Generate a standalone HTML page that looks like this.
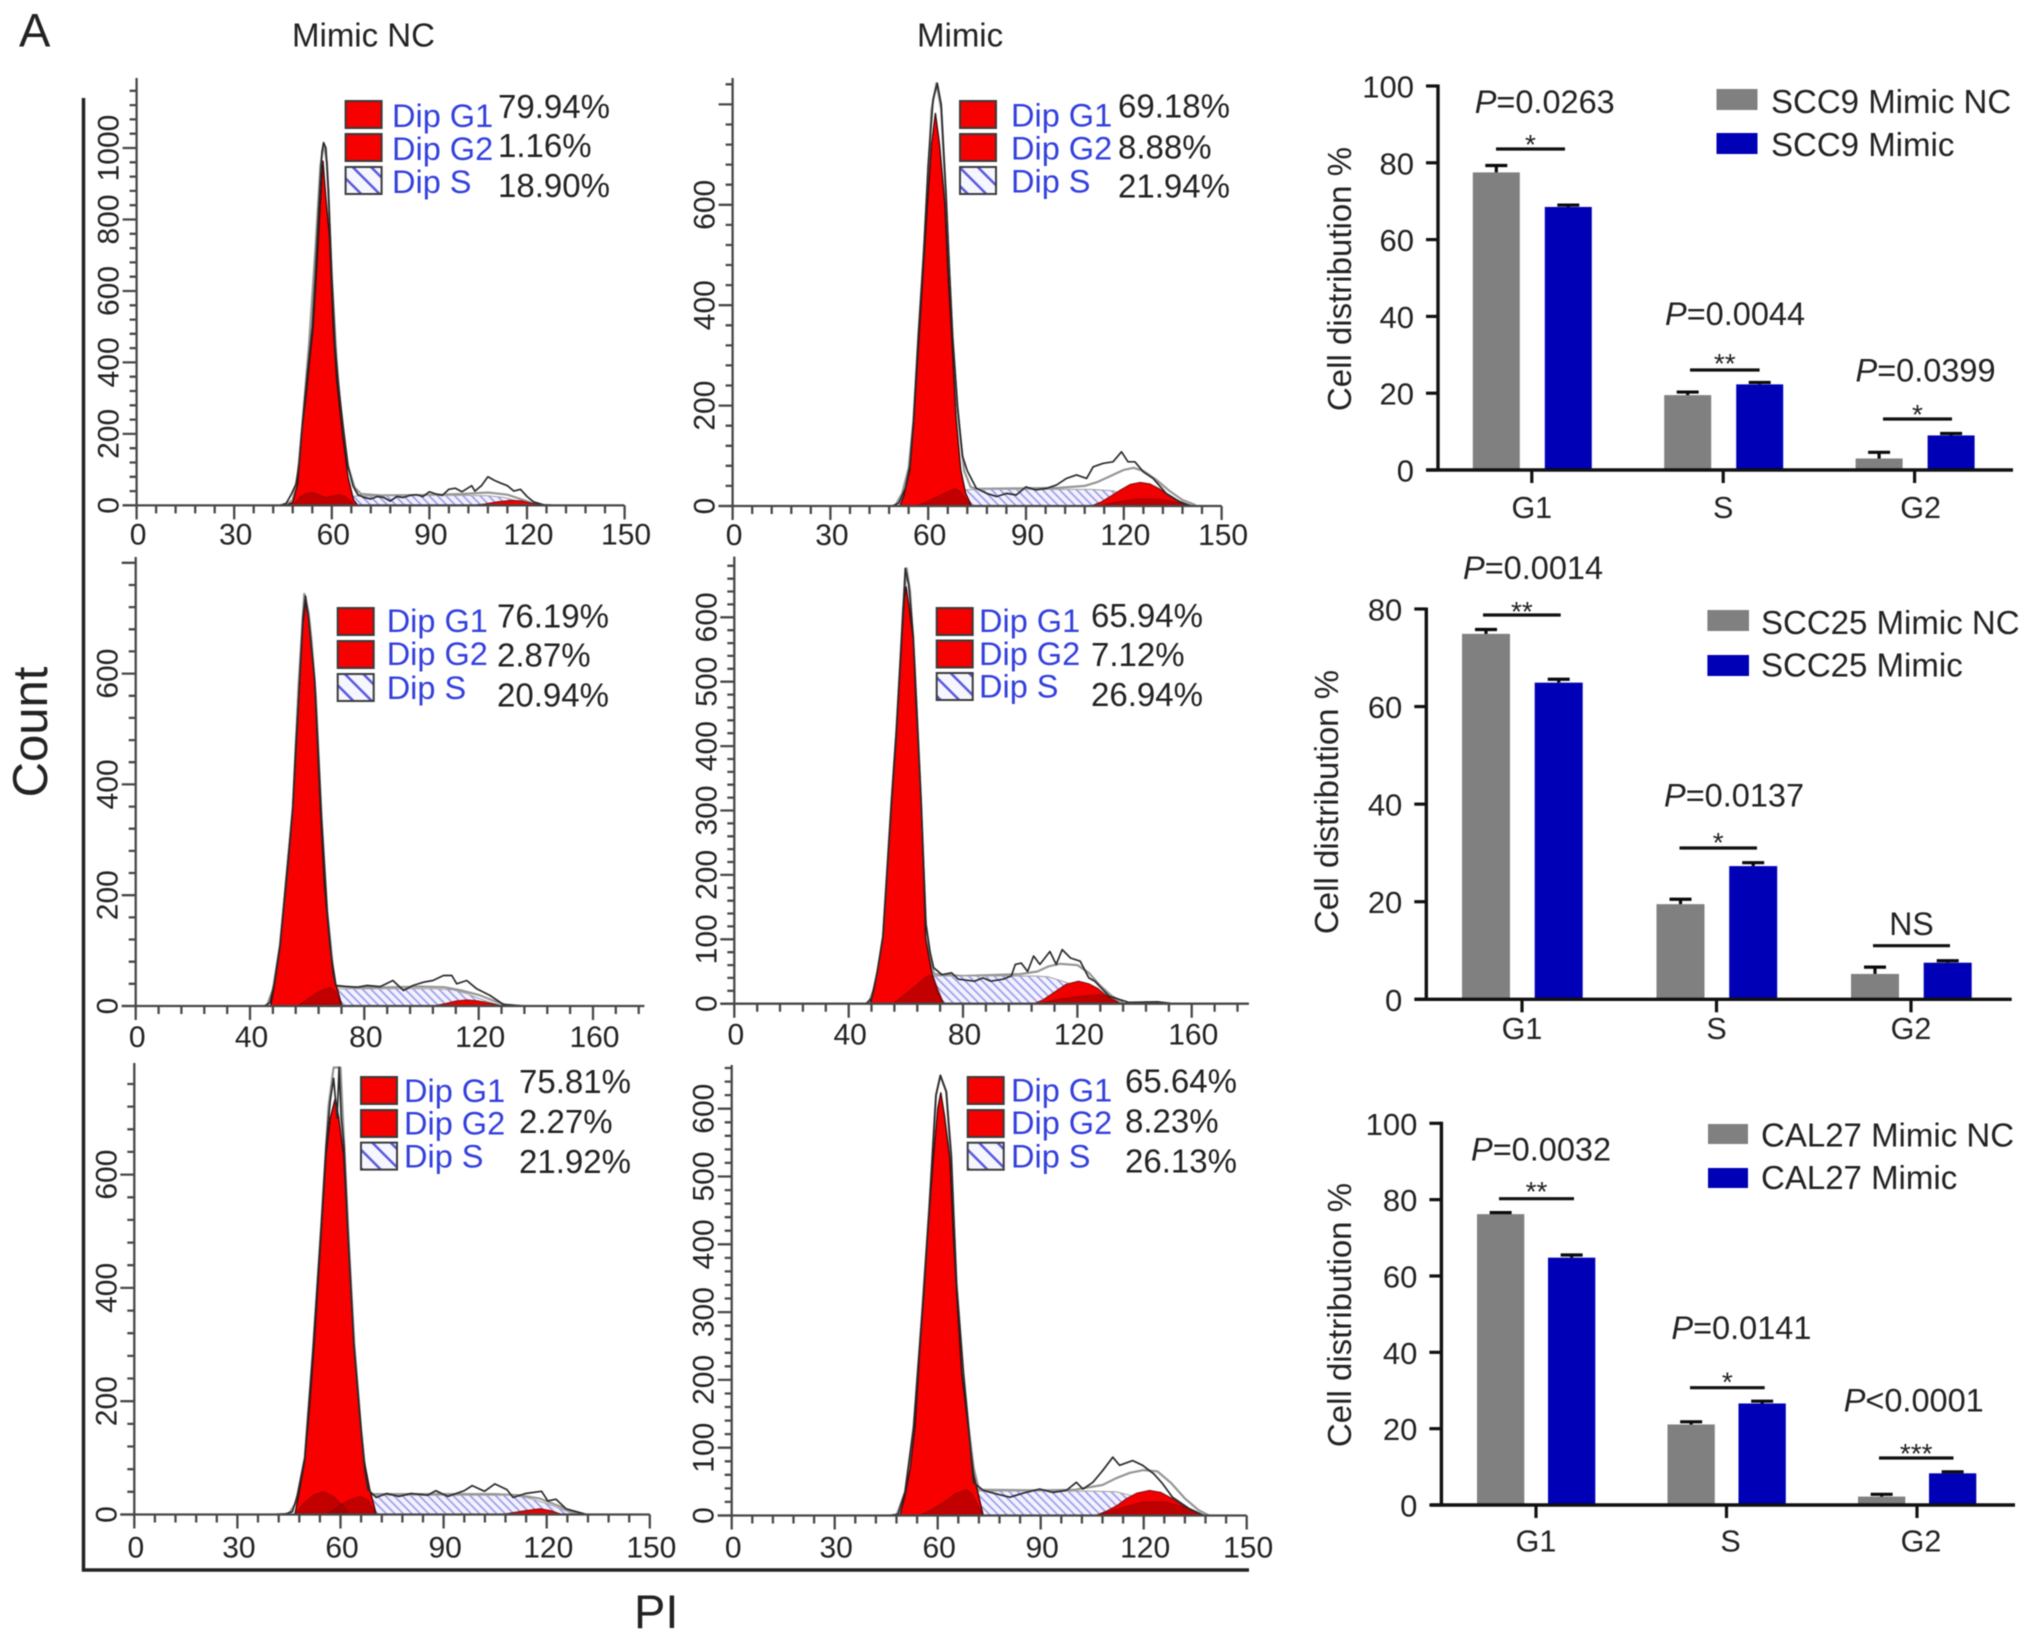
<!DOCTYPE html>
<html lang="en">
<head>
<meta charset="utf-8">
<title>Cell cycle distribution: flow cytometry histograms and bar charts</title>
<style>
html,body{margin:0;padding:0;background:#fff;width:2032px;height:1641px;overflow:hidden}
svg{display:block;filter:blur(.55px)}
text{font-family:"Liberation Sans",sans-serif;fill:#222}
</style>
</head>
<body>
<svg id="figure" xmlns="http://www.w3.org/2000/svg" width="2032" height="1641" viewBox="0 0 2032 1641">
  <defs>
    <pattern id="hatch-dense" patternUnits="userSpaceOnUse" width="6" height="6" patternTransform="rotate(-45)">
      <rect width="6" height="6" fill="#f3f3ff"/>
      <rect width="1.7" height="6" fill="#9c9cee"/>
    </pattern>
    <pattern id="hatch-wide" patternUnits="userSpaceOnUse" width="13" height="13" patternTransform="rotate(-45)">
      <rect width="13" height="13" fill="#f6f6ff"/>
      <rect width="2.5" height="13" fill="#5a5adf"/>
    </pattern>
  </defs>
  <text x="19" y="46.5" font-size="47">A</text>
  <text x="292" y="46.5" font-size="33">Mimic NC</text>
  <text x="917" y="46.5" font-size="33">Mimic</text>
  <polyline points="83.5,98 83.5,1570 1249,1570" fill="none" stroke="#222" stroke-width="3.5"/>
  <text transform="translate(47 732) rotate(-90)" text-anchor="middle" font-size="49">Count</text>
  <text x="634" y="1628" font-size="47">PI</text>
</svg>
<script>
// ---------- Histogram data (channel, count) ----------
const p1G1=[[46,0],[48,8],[49.5,60],[50.7,200],[52,300],[53.5,430],[54.3,500],[55.5,680],[56.2,800],[57.3,965],[58.2,860],[59.3,750],[60.4,500],[61.5,350],[63.3,200],[65,80],[66.7,15],[68,0]];
const p1Bump=[[48,0],[50,22],[52,33],[54,36],[56,30],[58,22],[60,26],[62,30],[64,26],[66,10],[67,0]];
const p1S=[[64,22],[66,26],[70,26],[80,27],[90,28],[100,28],[108,27],[113,22],[118,10],[122,2],[124,0]];
const p1G2=[[103,0],[107,4],[111,10],[115,14],[118,13],[121,7],[124,2],[126,0]];
const p1Fit=[[46,2],[48,15],[49.5,80],[51,230],[53,450],[55,720],[56.5,950],[57.5,1012],[58.5,960],[60,640],[61.5,400],[63,240],[65,110],[67,50],[69,32],[75,28],[90,29],[100,32],[108,36],[114,30],[118,18],[122,5],[126,0]];
const p1Trace=[[44,0],[46,6],[47.5,30],[49,60],[50,120],[51,230],[52.5,370],[54,500],[55,650],[56,830],[57,990],[57.5,1015],[58.2,1000],[59,880],[60,640],[61,450],[62,340],[63.5,220],[65,110],[66.5,55],[68,30],[70,22],[72,18],[74,25],[76,22],[78,12],[80,25],[82,22],[84,28],[86,30],[88,25],[90,38],[92,32],[94,28],[96,45],[98,48],[100,38],[103,55],[104,40],[106,55],[108,80],[110,70],[112,62],[114,55],[116,40],[118,45],[120,25],[122,10],[125,2],[128,0]];

const p2G1=[[51.3,0],[52.5,20],[54.4,72],[55.5,160],[57.2,337],[58.5,470],[59.8,603],[61,720],[62.2,783],[63.5,720],[65.1,603],[66,470],[67.2,337],[68.5,180],[70,72],[71.5,25],[73.3,0]];
const p2Bump=[[56.4,0],[60,10],[64,22],[68.2,35],[70,28],[72,10],[73.3,0]];
const p2S=[[66,20],[70,32],[75,33],[95,33],[110,33],[117,30],[125,5],[130,0]];
const p2G2=[[110,0],[113,8],[116,20],[119,32],[122,43],[125,47],[128,44],[131,34],[134,20],[137,10],[141,0]];
const p2G2Dark=[[112,0],[118,8],[124,14],[130,14],[136,8],[141,0]];
const p2Fit=[[50,2],[52,25],[54,75],[55.5,170],[57,340],[59,540],[61,790],[62.5,842],[64,790],[65.5,600],[67.5,330],[69,190],[71,70],[73,38],[75,34],[100,36],[108,40],[112,48],[116,60],[120,72],[123,76],[126,70],[130,52],[134,30],[138,12],[142,2]];
const p2Trace=[[49,0],[51,6],[53,35],[54.4,80],[55.5,170],[57,340],[58.5,490],[60,680],[61.5,810],[62.8,842],[64,800],[65.5,620],[66.5,470],[67.5,340],[69,200],[70.5,100],[72,70],[74.8,35],[77.9,25],[81,19],[84,25],[87,22],[90,38],[93,32],[96.3,35],[99.4,42],[102.4,55],[105.5,62],[108.6,55],[110.6,78],[113.7,85],[116.7,88],[119.3,108],[121.3,88],[123.4,88],[126,68],[129,55],[133,25],[138,5],[141,0]];

const p3G1=[[47.2,0],[48.5,35],[50.5,106],[52.5,220],[54.8,347],[56,470],[57.4,588],[58.5,690],[59.4,729],[60.5,700],[62.6,588],[63.6,470],[64.7,347],[66,220],[68,106],[70,40],[72.2,0]];
const p3Bump=[[56.5,0],[60,12],[64,26],[68,34],[70,26],[72,0]];
const p3S=[[64,22],[68,31],[72,31],[90,31],[105,31],[111,29],[116,22],[122,10],[127,2],[129,0]];
const p3G2=[[104,0],[108,4],[112,9],[116,11],[120,9],[124,5],[128.6,0]];
const p3Fit=[[46,2],[48,30],[50.5,110],[53,250],[55,360],[57,580],[59,744],[60.5,710],[61.5,660],[63,560],[65,340],[67,170],[69,70],[70,36],[80,33],[100,35],[108,34],[114,28],[120,20],[126,8],[130,1]];
const p3Trace=[[45,0],[47,6],[48.5,40],[50.5,110],[53,240],[55,360],[57.4,590],[58.5,700],[59.4,740],[60.5,700],[62.6,590],[65,340],[67,170],[69,60],[70,37],[74,35],[77.5,34],[81,37],[85.6,35],[90,46],[93.7,28],[97,37],[100.7,43],[104,46],[107.7,55],[110.6,55],[112.3,40],[115.8,46],[119.3,31],[124,19],[128.6,3],[135.6,0]];

const p4G1=[[47.6,0],[49,25],[51.9,102],[53.5,210],[55,308],[56.6,411],[57.6,490],[58.6,565],[59.5,630],[60.1,648],[61,620],[62.6,565],[63.5,470],[64.3,411],[65.4,308],[66.2,200],[66.9,102],[69,50],[71,20],[73.3,0]];
const p4Bump=[[55.4,0],[59,12],[63,26],[66,38],[68.3,45],[70,38],[72,15],[73.3,0]];
const p4S=[[66,35],[69.7,43],[80,43],[95,43],[105,43],[109.7,42],[116.9,32],[122,18],[128,5],[132,0]];
const p4G2=[[104.7,0],[108,6],[112,18],[116,30],[120.4,35],[124,31],[127,24],[130,13],[133,5],[135.4,0]];
const p4G2Dark=[[106,0],[115,8],[122,12],[128,14],[132,10],[135.4,0]];
const p4Fit=[[47,2],[49.5,30],[52,105],[55,315],[57,440],[59,610],[60.3,676],[61.5,640],[63,530],[65,340],[67,120],[69,60],[70,46],[80,43],[100,46],[106,50],[110,58],[114,62],[120,60],[124,48],[128,28],[132,12],[136,2]];
const p4Trace=[[46,0],[48,8],[50,50],[52,105],[55,315],[56.6,420],[58.6,575],[59.8,676],[61,650],[62.6,570],[64.3,415],[65.4,310],[67,125],[68.5,80],[69.7,56],[72.6,45],[76,48],[78.3,38],[84,35],[87,40],[89.7,35],[94,38],[96.9,43],[98.3,61],[100.4,63],[102.6,50],[104.7,74],[106.9,61],[110.4,81],[112.6,61],[114.7,84],[117.6,71],[121,66],[124,40],[126.1,35],[131,12],[138,2],[148,3],[154,0]];

const p5G1=[[46.7,0],[48,40],[49.6,95],[51,190],[52.3,297],[53.4,400],[54.4,500],[55.8,635],[57,700],[58.5,736],[59.5,700],[60.9,635],[62.1,500],[63,400],[63.9,297],[65.5,180],[66.9,95],[68.5,45],[70.4,0]];
const p5Bump1=[[46.7,0],[49,18],[52,34],[55,40],[58,32],[61,14],[62.5,0]];
const p5Bump2=[[56,0],[59,12],[62,24],[65.7,32],[68,26],[70.4,0]];
const p5S=[[62,24],[68,34],[80,34],[95,34],[109,34],[114,30],[119.7,20],[125,8],[128,0]];
const p5G2=[[106.6,0],[110,3],[114,7],[118,10],[121,7],[124.5,0]];
const p5Fit=[[45,2],[47,20],[49.6,100],[52,290],[54.5,520],[56.5,720],[58,789],[60,789],[61,660],[62.5,470],[64,300],[66,150],[67,90],[68,36],[90,36],[105,36],[112,34],[118,28],[124,14],[128,3],[131,0]];
const p5Trace=[[40,0],[44,1],[46,5],[47.5,35],[49.6,100],[52,290],[54.4,510],[55.8,650],[57,730],[58,770],[59,700],[59.6,789],[60.2,700],[61,650],[62.1,505],[63.9,300],[66,150],[67,80],[68,44],[70.4,30],[73.4,37],[77,32],[80.5,37],[85.3,34],[87.7,42],[91.2,32],[96,42],[98.3,51],[101.9,41],[104.9,54],[108.4,44],[110.2,30],[113.8,37],[118.5,41],[120.3,24],[122.7,27],[125.6,10],[131.6,0]];

const p6G1=[[49,0],[50.5,30],[52,70],[53.4,130],[55,260],[56,327],[57.3,430],[58.7,524],[60,600],[60.9,624],[62,590],[63.6,524],[64.5,420],[65.5,327],[67,210],[68.9,130],[70.5,60],[73.3,0]];
const p6Bump=[[54.4,0],[58,8],[62,20],[65,32],[68.4,38],[70,32],[73.3,0]];
const p6S=[[68,32],[70.4,36],[80,36],[95,36],[105,36],[112,35],[116,30],[122,16],[128,5],[132,0]];
const p6G2=[[106,0],[109,6],[112,14],[115,25],[118,33],[121.7,37],[125,34],[128,26],[131,16],[134,7],[137.6,0]];
const p6G2Dark=[[106,0],[114,12],[120,20],[126,20],[132,12],[137.6,0]];
const p6Fit=[[48,0],[50.5,35],[53,130],[55.5,300],[57.5,450],[59.5,620],[60.8,649],[62.5,625],[64,510],[65.5,340],[67.5,210],[69,130],[70.5,70],[72,38],[90,37],[100,38],[108,45],[112,55],[116,63],[120,67],[124,65],[128,48],[132,25],[136,8],[139,0]];
const p6Trace=[[46,0],[48.5,2],[50.5,35],[53,130],[55.5,300],[57.5,450],[59.5,620],[60.8,649],[62.5,625],[64,530],[65.5,340],[67.5,210],[69,130],[70.4,49],[73.3,37],[77,32],[81,27],[85,33],[89.7,39],[93.6,34],[97.5,37],[100.4,49],[102.3,39],[105.2,49],[108,66],[111,86],[113,74],[116.8,81],[119.7,74],[123,61],[125.5,47],[128.4,27],[133.3,10],[137.6,0]];

const p1Percents=['79.94%','1.16%','18.90%'];
const p2Percents=['69.18%','8.88%','21.94%'];
const p3Percents=['76.19%','2.87%','20.94%'];
const p4Percents=['65.94%','7.12%','26.94%'];
const p5Percents=['75.81%','2.27%','21.92%'];
const p6Percents=['65.64%','8.23%','26.13%'];
const legendNames=['Dip G1','Dip G2','Dip S'];

const xTickLabels30=[0,30,60,90,120,150];
const xTickLabels40=[0,40,80,120,160];
const yTickLabels1000=[0,200,400,600,800,1000];
const yTickLabels600=[0,200,400,600];
const yTickLabels600by100=[0,100,200,300,400,500,600];

// ---------- Bar chart data ----------
const phaseLabels=['G1','S','G2'];
const chart1NC=[77.5,19.5,3];
const chart1Mimic=[68.5,22.3,9];
const chart1NCUpper=[79.3,20.3,4.6];
const chart1MimicUpper=[69,22.8,9.5];
const chart1Ticks=[0,20,40,60,80,100];
const chart1PValues=['=0.0263','=0.0044','=0.0399'];
const chart1Stars=['*','**','*'];
const chart1Legend=['SCC9 Mimic NC','SCC9 Mimic'];

const chart2NC=[74.9,19.5,5.2];
const chart2Mimic=[64.9,27.3,7.5];
const chart2NCUpper=[75.8,20.5,6.6];
const chart2MimicUpper=[65.6,28,7.9];
const chart2Ticks=[0,20,40,60,80];
const chart2PValues=['=0.0014','=0.0137',''];
const chart2Stars=['**','*','NS'];
const chart2Legend=['SCC25 Mimic NC','SCC25 Mimic'];

const chart3NC=[76.2,21.1,2.2];
const chart3Mimic=[64.8,26.6,8.3];
const chart3NCUpper=[76.6,21.8,2.8];
const chart3MimicUpper=[65.5,27.2,8.7];
const chart3Ticks=[0,20,40,60,80,100];
const chart3PValues=['=0.0032','=0.0141','<0.0001'];
const chart3Stars=['**','*','***'];
const chart3Legend=['CAL27 Mimic NC','CAL27 Mimic'];

// ---------- Layout ----------
const svg=document.getElementById('figure');
const NS='http://www.w3.org/2000/svg';
function mk(parent,tag,attrs,text){
  const e=document.createElementNS(NS,tag);
  for(const k in attrs)e.setAttribute(k,attrs[k]);
  if(text!==undefined)e.textContent=text;
  parent.appendChild(e);
  return e;
}

const panels=[
 {id:'1',x0:136.6,xs:3.253,y0:505.4,ys:.3574,xEnd:150,xTickEnd:150,xMajor:30,xMinor:6,xLabels:xTickLabels30,yMajor:200,yMinor:40,yMax:1160,yLabels:yTickLabels1000,yTop:78,xLabelDy:39,
  g1:p1G1,bumps:[p1Bump],s:p1S,g2:p1G2,fit:p1Fit,trace:p1Trace,pct:p1Percents,
  sw:[345.6,36,[101,134,167],27],tx:392,tb:[127,160,193],px:498,pb:[118,157,197]},
 {id:'2',x0:732.6,xs:3.26,y0:506,ys:.502,xEnd:150,xTickEnd:150,xMajor:30,xMinor:6,xLabels:xTickLabels30,yMajor:200,yMinor:40,yMax:840,yLabels:yTickLabels600,yTop:78,xLabelDy:39,
  g1:p2G1,bumps:[p2Bump,p2G2Dark],s:p2S,g2:p2G2,fit:p2Fit,trace:p2Trace,pct:p2Percents,
  sw:[960,36,[101,134,167],27],tx:1011,tb:[126.7,159.3,192.7],px:1118,pb:[117.3,158.3,197.7]},
 {id:'3',x0:135.7,xs:2.858,y0:1006,ys:.554,xEnd:178,xTickEnd:176,xMajor:40,xMinor:8,xLabels:xTickLabels40,yMajor:200,yMinor:40,yMax:800,yLabels:yTickLabels600,yTop:557,xLabelDy:41,
  g1:p3G1,bumps:[p3Bump],s:p3S,g2:p3G2,fit:p3Fit,trace:p3Trace,pct:p3Percents,
  sw:[337.7,36,[608,641,674],27],tx:386.7,tb:[632,665,699],px:497,pb:[627.7,666.7,706.7]},
 {id:'4',x0:734.3,xs:2.859,y0:1003.7,ys:.644,xEnd:180,xTickEnd:176,xMajor:40,xMinor:8,xLabels:xTickLabels40,yMajor:100,yMinor:20,yMax:680,yLabels:yTickLabels600by100,yTop:556.6,xLabelDy:41,
  g1:p4G1,bumps:[p4Bump,p4G2Dark],s:p4S,g2:p4G2,fit:p4Fit,trace:p4Trace,pct:p4Percents,
  sw:[936.7,36,[608,640.5,673],27],tx:979,tb:[632,665,697.5],px:1091,pb:[627,666,706]},
 {id:'5',x0:134.3,xs:3.437,y0:1514.5,ys:.5665,xEnd:150,xTickEnd:150,xMajor:30,xMinor:6,xLabels:xTickLabels30,yMajor:200,yMinor:40,yMax:760,yLabels:yTickLabels600,yTop:1063,xLabelDy:43,
  g1:p5G1,bumps:[p5Bump1,p5Bump2],s:p5S,g2:p5G2,fit:p5Fit,trace:p5Trace,pct:p5Percents,
  sw:[361,36,[1077,1110,1142.6],27],tx:404,tb:[1102,1134.5,1167.4],px:519,pb:[1093,1133,1173]},
 {id:'6',x0:731.7,xs:3.433,y0:1515.5,ys:.678,xEnd:150,xTickEnd:150,xMajor:30,xMinor:6,xLabels:xTickLabels30,yMajor:100,yMinor:20,yMax:660,yLabels:yTickLabels600by100,yTop:1065,xLabelDy:42,
  g1:p6G1,bumps:[p6Bump,p6G2Dark],s:p6S,g2:p6G2,fit:p6Fit,trace:p6Trace,pct:p6Percents,
  sw:[967.7,36,[1077,1110,1142.7],27],tx:1011,tb:[1101.7,1134,1167.3],px:1125,pb:[1092.7,1132.7,1172.7]}
];

function drawPanel(p){
  const X=v=>p.x0+v*p.xs;
  const Y=v=>p.y0-v*p.ys;
  const line=a=>a.map(d=>X(d[0]).toFixed(1)+','+Y(d[1]).toFixed(1)).join(' ');
  const g=mk(svg,'g',{});
  
  

  const fit=mk(g,'polyline',{points:line(p.fit),fill:'none',stroke:'#969696','stroke-width':2.2,'stroke-linejoin':'round'});
  
  

  const sBase=X(p.s[0][0]).toFixed(1)+','+Y(0).toFixed(1)+' ';
  const s=mk(g,'polygon',{points:sBase+line(p.s),fill:'url(#hatch-dense)',stroke:'#a0a0a0','stroke-width':1});
  
  

  const g2=mk(g,'polygon',{points:line(p.g2),fill:'#f00000',stroke:'#7a1010','stroke-width':1});
  
  

  const g1=mk(g,'polygon',{points:line(p.g1),fill:'#f80000',stroke:'#3a0a0a','stroke-width':1.3});
  
  

  p.bumps.forEach(function(b){
    const o=mk(g,'polygon',{points:line(b),fill:'rgba(150,0,0,.55)',stroke:'rgba(90,8,8,.5)','stroke-width':.8});
    
    
  });

  const tr=mk(g,'polyline',{points:line(p.trace),fill:'none',stroke:'#2b2b2b','stroke-width':1.7,'stroke-linejoin':'round'});
  
  

  // axes
  const xa=mk(g,'line',{x1:p.x0-14,x2:X(p.xEnd),y1:p.y0,y2:p.y0,stroke:'#484848','stroke-width':2.3});
  
  
  const ya=mk(g,'line',{x1:p.x0,x2:p.x0,y1:p.y0,y2:p.yTop,stroke:'#484848','stroke-width':2.3});
  
  

  let d='';
  for(let v=0;v<=p.xTickEnd+.01;v+=p.xMinor){
    const major=Math.abs(v/p.xMajor-Math.round(v/p.xMajor))<.001;
    d+='M'+X(v).toFixed(1)+' '+p.y0+'v'+(major?14:8);
  }
  const xt=mk(g,'path',{d:d,stroke:'#484848','stroke-width':2.3,fill:'none'});
  
  

  d='';
  for(let v=0;v<=p.yMax+.01;v+=p.yMinor){
    const major=Math.abs(v/p.yMajor-Math.round(v/p.yMajor))<.001;
    d+='M'+p.x0+' '+Y(v).toFixed(1)+'h-'+(major?14:7);
  }
  const yt=mk(g,'path',{d:d,stroke:'#484848','stroke-width':2.3,fill:'none'});
  
  

  p.xLabels.forEach(function(v){
    const t=mk(g,'text',{x:X(v)+1.5,y:p.y0+p.xLabelDy,'text-anchor':'middle','font-size':30},v);
    
    
  });
  p.yLabels.forEach(function(v){
    const t=mk(g,'text',{transform:'translate('+(p.x0-18)+' '+Y(v).toFixed(1)+') rotate(-90)','text-anchor':'middle','font-size':30},v);
    
    
  });

  // legend
  legendNames.forEach(function(name,i){
    const fill=i===2?'url(#hatch-wide)':'#f60000';
    const r=mk(g,'rect',{x:p.sw[0],y:p.sw[2][i],width:p.sw[1],height:p.sw[3],fill:fill,stroke:'#3b3b3b','stroke-width':2});
    
    
    const t=mk(g,'text',{x:p.tx,y:p.tb[i],'font-size':32.5,style:'fill:#3340dc'},name);
    
    
    const q=mk(g,'text',{x:p.px,y:p.pb[i],'font-size':33},p.pct[i]);
    
    
  });
}
panels.forEach(drawPanel);

const charts=[
 {id:'1',axisX:1438,y0:470,ys:3.84,yTopV:100,left:1426,right:2013,tick0:1531.8,step:191.4,grayOff:-59,blueOff:13,w:47,catOff:[0,0,6],
  nc:chart1NC,mi:chart1Mimic,ncU:chart1NCUpper,miU:chart1MimicUpper,ticks:chart1Ticks,pv:chart1PValues,stars:chart1Stars,legend:chart1Legend,
  swX:1716.5,swW:41,swY:[89,133],swH:21,legX:1771,legB:[113,156],catB:518,ylx:1351,yly:279,
  pPos:[[1474.7,113],[1665,325],[1855.5,381.7]],sig:[[1496,1565,149],[1690,1759.6,370],[1883,1952,419]],starY:[138,357,408]},
 {id:'2',axisX:1426.3,y0:999.3,ys:4.879,yTopV:80,left:1414.5,right:2011.7,tick0:1522,step:194.5,grayOff:-60,blueOff:12.7,w:48,catOff:[0,0,0],
  nc:chart2NC,mi:chart2Mimic,ncU:chart2NCUpper,miU:chart2MimicUpper,ticks:chart2Ticks,pv:chart2PValues,stars:chart2Stars,legend:chart2Legend,
  swX:1707.4,swW:41.6,swY:[610,655],swH:21,legX:1761,legB:[634,676.7],catB:1039,ylx:1338,yly:802,
  pPos:[[1463,579],[1664,806.7],null],sig:[[1483,1560.7,615],[1679.5,1757,848],[1873,1950,945.7]],starY:[605,836,935]},
 {id:'3',axisX:1441.4,y0:1505,ys:3.817,yTopV:100,left:1430.6,right:2015,tick0:1536,step:190.5,grayOff:-59,blueOff:12,w:47.3,catOff:[0,4,4],
  nc:chart3NC,mi:chart3Mimic,ncU:chart3NCUpper,miU:chart3MimicUpper,ticks:chart3Ticks,pv:chart3PValues,stars:chart3Stars,legend:chart3Legend,
  swX:1708,swW:40,swY:[1124,1168],swH:20,legX:1761,legB:[1146.7,1189],catB:1551.7,ylx:1351,yly:1315,
  pPos:[[1471,1160.7],[1671.4,1339],[1843.7,1411.7]],sig:[[1499,1574,1198.7],[1690,1764.7,1387.7],[1879,1953.5,1458]],starY:[1185,1375.7,1447]}
];

function drawChart(c){
  const Y=v=>c.y0-v*c.ys;
  const g=mk(svg,'g',{});
  
  

  phaseLabels.forEach(function(name,i){
    const cx=c.tick0+i*c.step;
    [[c.nc,c.ncU,'#808080',c.grayOff,'bar-mimic-nc'],[c.mi,c.miU,'#0000b6',c.blueOff,'bar-mimic']].forEach(function(s){
      const left=cx+s[3];
      const r=mk(g,'rect',{x:left,y:Y(s[0][i]),width:c.w,height:s[0][i]*c.ys,fill:s[2]});
      
      
      const mid=left+c.w/2;
      const e=mk(g,'path',{d:'M'+mid+' '+Y(s[0][i])+'V'+Y(s[1][i])+'M'+(mid-11)+' '+Y(s[1][i])+'H'+(mid+11),stroke:'#0a0a0a','stroke-width':3.2,fill:'none'});
      
      
    });
    const tk=mk(g,'line',{x1:cx,x2:cx,y1:c.y0,y2:c.y0+13,stroke:'#111','stroke-width':3.2});
    
    
    const lb=mk(g,'text',{x:cx+c.catOff[i],y:c.catB,'text-anchor':'middle','font-size':30.5},name);
    
    

    if(c.pPos[i]){
      const pt=mk(g,'text',{x:c.pPos[i][0],y:c.pPos[i][1],'font-size':32.5});
      
      
      mk(pt,'tspan',{'font-style':'italic'},'P');
      mk(pt,'tspan',{},c.pv[i]);
    }
    const sg=mk(g,'line',{x1:c.sig[i][0],x2:c.sig[i][1],y1:c.sig[i][2],y2:c.sig[i][2],stroke:'#111','stroke-width':3.2});
    
    
    const isNS=c.stars[i]==='NS';
    const st=mk(g,'text',{x:(c.sig[i][0]+c.sig[i][1])/2,y:isNS?c.starY[i]:c.starY[i]+16,'text-anchor':'middle','font-size':isNS?32:28},c.stars[i]);
    
    
  });

  const ya=mk(g,'line',{x1:c.axisX,x2:c.axisX,y1:Y(c.yTopV)-1.5,y2:c.y0,stroke:'#111','stroke-width':3.4});
  
  
  const xa=mk(g,'line',{x1:c.left,x2:c.right,y1:c.y0,y2:c.y0,stroke:'#111','stroke-width':3.4});
  
  

  c.ticks.forEach(function(v){
    const t=mk(g,'line',{x1:c.axisX-12,x2:c.axisX,y1:Y(v),y2:Y(v),stroke:'#111','stroke-width':3.2});
    
    
    const l=mk(g,'text',{x:c.axisX-24,y:Y(v)+11.5,'text-anchor':'end','font-size':31},v);
    
    
  });

  const yt=mk(g,'text',{transform:'translate('+c.ylx+' '+c.yly+') rotate(-90)','text-anchor':'middle','font-size':33},'Cell distribution %');
  
  

  c.legend.forEach(function(name,i){
    const r=mk(g,'rect',{x:c.swX,y:c.swY[i],width:c.swW,height:c.swH,fill:i===0?'#808080':'#0000b6'});
    
    
    const t=mk(g,'text',{x:c.legX,y:c.legB[i],'font-size':33},name);
    
    
  });
}
charts.forEach(drawChart);
</script>
</body>
</html>
